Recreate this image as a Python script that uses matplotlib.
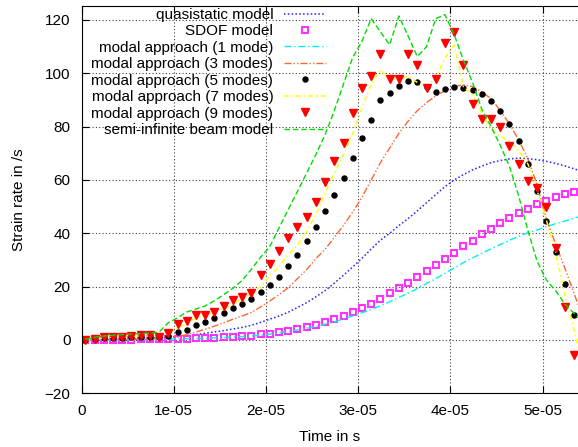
import numpy as np
import matplotlib
matplotlib.use('Agg')
import matplotlib.pyplot as plt

plt.rcParams['font.family'] = 'Liberation Sans'
plt.rcParams['font.size'] = 11

# sample times in microseconds
time_us = [0.4, 1.4, 2.4, 3.4, 4.4, 5.4, 6.4, 7.4, 8.4, 9.4,
           10.4, 11.4, 12.4, 13.4, 14.4, 15.4, 16.4, 17.4, 18.4, 19.4,
           20.4, 21.4, 22.4, 23.4, 24.4, 25.4, 26.4, 27.4, 28.4, 29.4,
           30.4, 31.4, 32.4, 33.4, 34.4, 35.4, 36.4, 37.4, 38.4, 39.4,
           40.4, 41.4, 42.4, 43.4, 44.4, 45.4, 46.4, 47.4, 48.4, 49.4,
           50.4, 51.4, 52.4, 53.4, 54.4]

quasistatic = [0, 0.05, 0.1, 0.15, 0.2, 0.3, 0.4, 0.6, 0.8, 1.0,
               1.3, 1.6, 2.0, 2.5, 3.0, 3.5, 4.1, 4.7, 5.5, 6.6,
               7.8, 9.0, 10.4, 12.2, 14.0, 16.2, 18.5, 21.3, 24.3, 27.4,
               30.6, 34.1, 37.4, 40.0, 42.9, 45.5, 48.4, 51.5, 54.5, 57.5,
               60.0, 62.0, 63.8, 65.2, 66.5, 67.3, 67.9, 68.2, 68.0, 67.6,
               67.0, 66.2, 65.3, 64.2, 63.0]

sdof = [0, 0, 0, 0.05, 0.1, 0.15, 0.2, 0.25, 0.3, 0.35,
        0.4, 0.5, 0.6, 0.7, 0.8, 1.0, 1.2, 1.4, 1.6, 2.1,
        2.4, 2.9, 3.5, 4.2, 5.0, 5.7, 6.6, 7.9, 9.1, 10.4,
        11.9, 13.6, 15.5, 17.5, 19.4, 21.5, 23.6, 25.9, 28.1, 30.4,
        32.7, 35.1, 37.3, 39.6, 41.6, 43.7, 45.6, 47.5, 49.2, 51.0,
        52.3, 53.5, 54.7, 55.6, 56.5]

mode1 = [0, 0, 0, 0, 0.1, 0.1, 0.1, 0.2, 0.2, 0.3,
         0.4, 0.5, 0.6, 0.7, 0.8, 0.9, 1.1, 1.3, 1.5, 1.8,
         2.2, 2.7, 3.2, 3.8, 4.4, 5.1, 5.9, 6.8, 7.9, 9.0,
         10.2, 11.5, 12.8, 14.3, 16.0, 17.5, 19.3, 21.2, 23.0, 25.0,
         27.0, 29.0, 30.8, 32.5, 34.2, 35.8, 37.4, 38.8, 40.2, 41.3,
         42.5, 43.6, 44.6, 45.7, 46.6]

mode3 = [0, 0, 0.1, 0.1, 0.2, 0.2, 0.3, 0.4, 0.6, 0.9,
         1.3, 2.0, 3.0, 4.0, 5.2, 6.4, 7.8, 9.0, 10.3, 12.4,
         14.6, 17.0, 19.6, 23.0, 26.4, 30.5, 34.0, 38.5, 43.0, 48.0,
         53.5, 60.0, 66.5, 72.0, 77.5, 82.0, 86.0, 89.0, 91.5, 93.5,
         95.0, 95.7, 95.0, 93.0, 90.5, 86.0, 81.0, 75.0, 68.0, 58.0,
         45.3, 36.0, 27.0, 17.5, 8.0]

mode5 = [0, 0.3, 0.6, 0.8, 0.9, 1.0, 1.0, 1.1, 1.3, 1.6,
         2.9, 3.9, 5.5, 6.8, 8.3, 10.0, 11.9, 13.5, 15.5, 18.1,
         20.6, 23.7, 27.6, 32.0, 37.0, 42.2, 48.2, 54.5, 60.6, 68.1,
         75.7, 82.6, 90.1, 92.8, 95.1, 97.2, 96.6, 94.8, 93.1, 94.1,
         95.0, 94.6, 93.7, 92.4, 89.8, 86.0, 80.9, 74.5, 65.9, 56.0,
         44.7, 33.0, 21.1, 9.5, -2.0]

mode7 = [0, 0.3, 0.8, 1.1, 1.2, 1.4, 1.5, 1.5, 1.3, 2.2,
         4.5, 6.3, 8.3, 9.2, 10.5, 11.6, 13.5, 15.5, 17.3, 20.0,
         24.0, 27.5, 32.0, 35.5, 40.5, 47.0, 55.0, 62.5, 69.5, 77.5,
         87.0, 96.0, 101.3, 97.6, 98.2, 98.8, 96.6, 95.4, 98.0, 105.7,
         110.5, 95.0, 92.0, 85.0, 79.0, 76.5, 74.5, 71.0, 66.0, 56.0,
         45.0, 33.0, 17.0, 3.8, -10.0]

mode9 = [0, 0.2, 1.0, 1.3, 1.3, 1.6, 1.7, 1.7, 1.3, 2.6,
         6.1, 7.2, 9.2, 9.2, 10.5, 12.9, 14.9, 16.1, 17.6, 24.2,
         28.6, 33.2, 38.2, 42.4, 46.1, 51.7, 59.4, 67.2, 73.7, 85.1,
         94.5, 99.1, 107.3, 97.9, 97.9, 107.3, 103.2, 94.5, 97.9, 111.4,
         115.4, 103.2, 88.4, 83.0, 83.0, 79.7, 72.6, 66.1, 59.8, 57.0,
         49.9, 34.5, 12.2, -5.8, -25.0]

semi_inf = [0.3, 1.0, 1.5, 1.8, 2.0, 2.2, 2.4, 2.5, 3.0, 6.5,
            8.3, 10.5, 11.6, 12.8, 14.7, 17.0, 19.4, 22.3, 26.5, 31.0,
            35.0, 42.0, 48.9, 55.7, 62.6, 69.5, 77.0, 86.0, 96.0, 106.0,
            112.0, 120.5, 115.6, 110.7, 121.5, 114.0, 106.3, 110.0, 120.5, 122.0,
            114.5, 105.0, 96.5, 86.5, 80.0, 73.0, 65.0, 54.0, 41.0, 29.5,
            22.5, 18.5, 13.5, 10.0, 7.0]

xtick_vals = [0, 1e-5, 2e-5, 3e-5, 4e-5, 5e-5]
xtick_labels = ['0', '1e-05', '2e-05', '3e-05', '4e-05', '5e-05']
ytick_vals = [-20, 0, 20, 40, 60, 80, 100, 120]

t = np.array(time_us) * 1e-6

fig = plt.figure(figsize=(5.78, 4.47), dpi=100)
ax = fig.add_axes([0.1413, 0.1201, 0.8587, 0.8665])

ax.plot(t, quasistatic, color='#2222ff', ls=(0, (1, 1.5)), lw=1.1, label='quasistatic model')
ax.plot(t, sdof, ls='none', marker='s', ms=4.3, mfc='none', mec='#ff33ff', mew=1.5, label='SDOF model')
ax.plot(t, mode1, color='#00f0f0', ls=(0, (5, 2, 1, 2)), lw=1.0, label='modal approach (1 mode)')
ax.plot(t, mode3, color='#ff6633', ls=(0, (5, 1.5, 1, 1.5, 1, 1.5)), lw=1.0, label='modal approach (3 modes)')
ax.plot(t, mode5, ls='none', marker='o', ms=3.6, color='black', label='modal approach (5 modes)')
ax.plot(t, mode7, color='#ffff00', ls=(0, (3, 2, 1, 2)), lw=1.1, label='modal approach (7 modes)')
ax.plot(t, mode9, ls='none', marker='v', ms=5.8, color='#ff0000', label='modal approach (9 modes)')
ax.plot(t, semi_inf, color='#00dd00', ls=(0, (4, 2)), lw=1.0, label='semi-infinite beam model')

ax.set_xlim(0, 5.383e-5)
ax.set_ylim(-20, 125.25)
ax.set_xticks(xtick_vals, xtick_labels)
ax.set_yticks(ytick_vals)
ax.tick_params(axis='x', direction='in', top=True, length=5, pad=8)
ax.tick_params(axis='y', direction='in', right=False, length=5, pad=8)
ax.spines['right'].set_visible(False)
ax.grid(True, color='0.25', ls=(0, (1, 2)), lw=0.8)
ax.set_axisbelow(True)

ax.set_xlabel('Time in s')
ax.set_ylabel('Strain rate in /s')
ax.xaxis.set_label_coords(0.5, -0.095)
ax.yaxis.set_label_coords(-0.113, 0.5)

ax.legend(loc='upper right', bbox_to_anchor=(0.4922, 0.995), frameon=False,
          markerfirst=False, handlelength=2.75, handletextpad=0.7,
          labelspacing=0.16, borderpad=0, borderaxespad=0, fontsize=11)

plt.savefig('out.png', dpi=100)
